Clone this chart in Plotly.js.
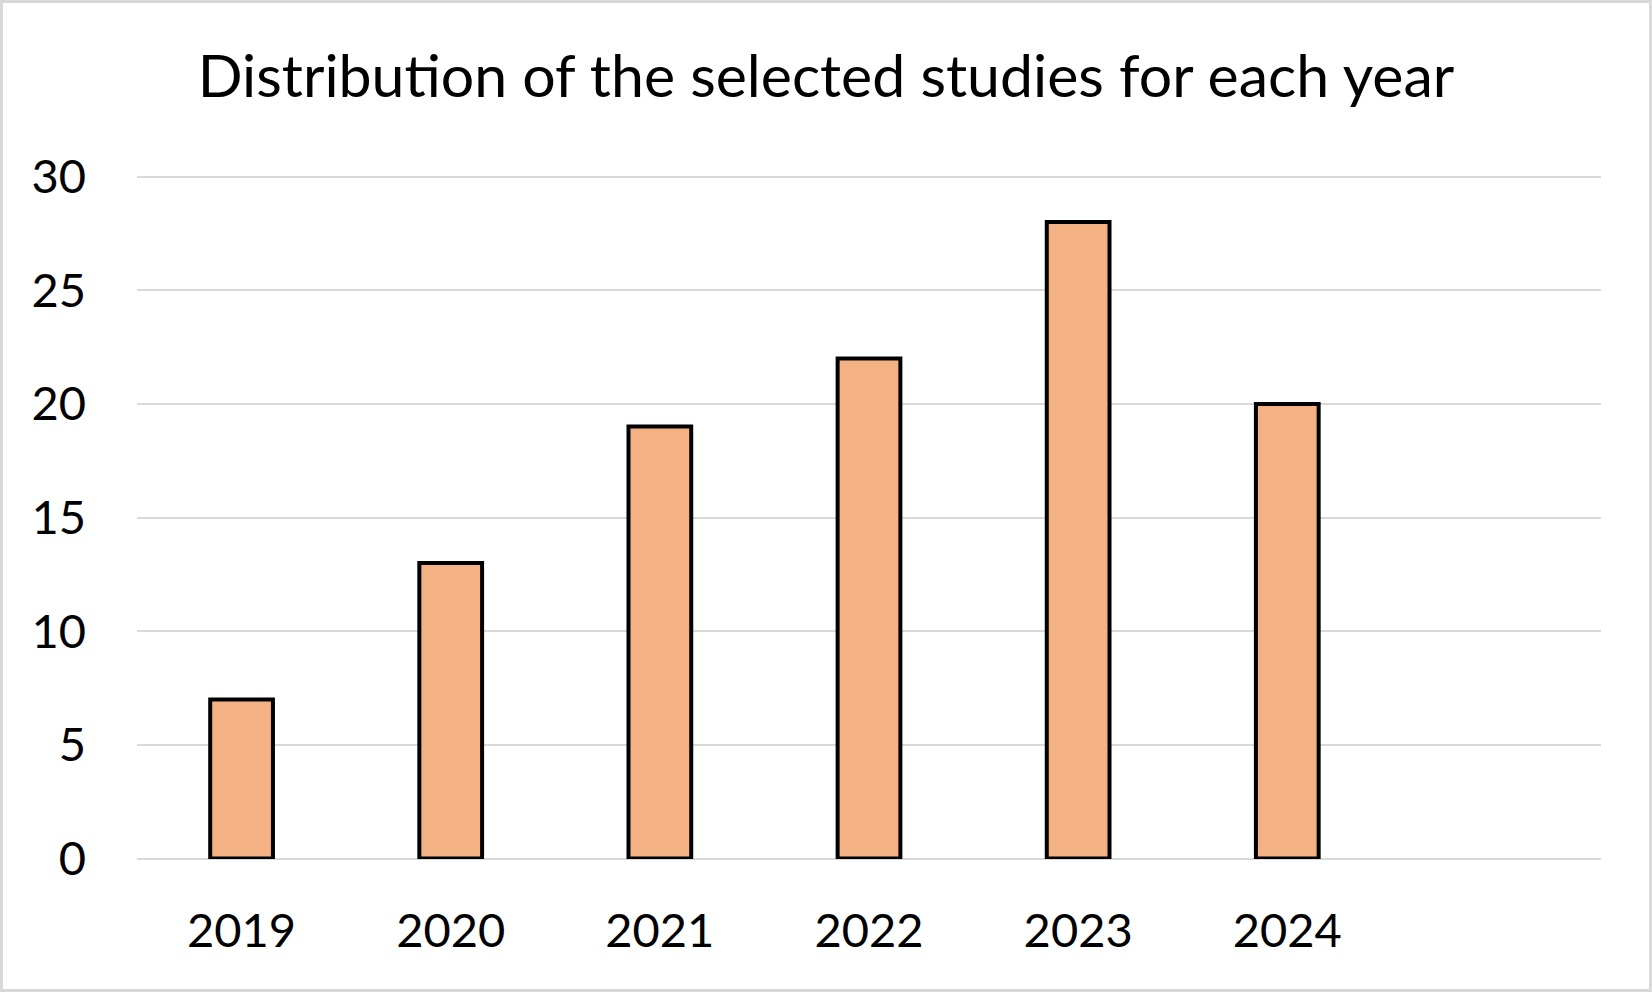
<!DOCTYPE html>
<html><head><meta charset="utf-8">
<script src="https://cdn.plot.ly/plotly-3.0.1.min.js"></script>
<style>
html,body{margin:0;padding:0;background:#fff;}
#wrap{position:relative;width:1652px;height:992px;}
#chart{width:1652px;height:992px;}
#frame{position:absolute;left:0;top:0;width:1652px;height:992px;box-sizing:border-box;border:3px solid #d9d9d9;pointer-events:none;}
</style></head>
<body>
<div id="wrap"><div id="chart"></div><div id="frame"></div></div>
<script>
const years = ['2019','2020','2021','2022','2023','2024'];
const studies = [7, 13, 19, 22, 28, 20];
const yTicks = [0, 5, 10, 15, 20, 25, 30];
const chartTitle = 'Distribution of the selected studies for each year';

const font = 'Lato, "Open Sans", sans-serif';
Plotly.newPlot('chart', [{
  type: 'bar',
  x: years,
  y: studies,
  width: 0.3,
  marker: {color: '#F4B183', line: {color: '#000000', width: 4}},
  hoverinfo: 'x+y'
}], {
  width: 1652, height: 992,
  margin: {l: 137, r: 51, t: 172, b: 133},
  paper_bgcolor: '#ffffff', plot_bgcolor: '#ffffff',
  showlegend: false,
  title: {text: chartTitle, font: {family: font, size: 59, color: '#000'}, x: 0.5, xanchor: 'center', y: 0.923, yanchor: 'middle'},
  xaxis: {type: 'category', range: [-0.5, 6.5], showgrid: false, zeroline: false, showline: false,
          ticks: '', tickfont: {family: font, size: 47, color: '#000'}, ticklabelstandoff: 40},
  yaxis: {range: [-0.02, 30.2], tickvals: yTicks, showgrid: true, gridcolor: '#d9d9d9', gridwidth: 2,
          zeroline: true, zerolinecolor: '#d9d9d9', zerolinewidth: 2, layer: 'below traces',
          showline: false, ticks: '', tickfont: {family: font, size: 47, color: '#000'},
          ticklabelstandoff: 50}
}, {staticPlot: true});
</script>
</body></html>
